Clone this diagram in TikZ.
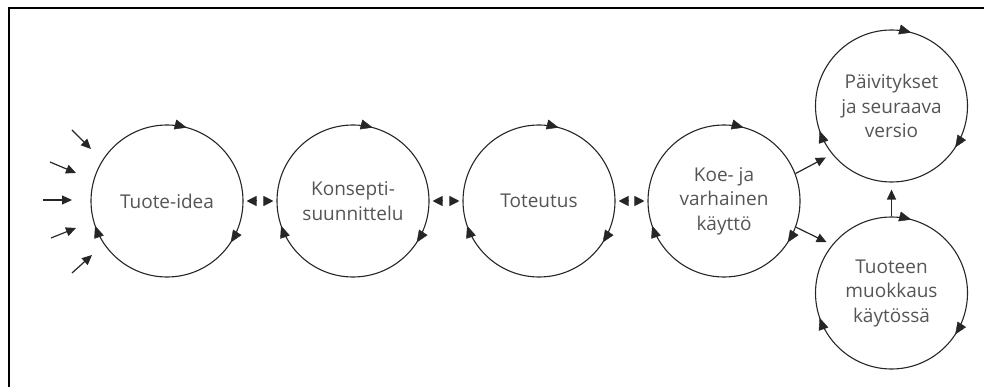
\documentclass[tikz,border=0pt]{standalone}
\usepackage{fontspec}
\setmainfont{Open Sans}
\usetikzlibrary{arrows.meta,decorations.markings,calc}

\definecolor{ink}{HTML}{262626}
\definecolor{txt}{HTML}{555555}

\begin{document}
\begin{tikzpicture}[x=1pt,y=1pt,
  stage/.style={circle, draw=ink, line width=1.1pt, minimum size=152pt,
    inner sep=0pt, align=center, text=txt,
    font=\fontsize{19}{24.5}\selectfont},
  % three clockwise arrowheads placed on a stage circle
  cyc/.style={postaction={decorate}, decoration={markings,
    mark=at position 0.2083 with {\arrowreversed[ink]{Triangle[length=12pt,width=10pt]}},
    mark=at position 0.5528 with {\arrowreversed[ink]{Triangle[length=12pt,width=10pt]}},
    mark=at position 0.9083 with {\arrowreversed[ink]{Triangle[length=12pt,width=10pt]}}}},
  conn/.style={draw=ink, line width=1.2pt, -{Triangle[length=10pt,width=9pt]}},
  half/.style={draw=ink, line width=1pt, -{Triangle[length=10pt,width=10pt]},
    shorten <=4pt, shorten >=3pt},
]
\useasboundingbox (0,0) rectangle (984,-387);

% frame
\draw[line width=2.2pt, line cap=rect] (8.7,-387) -- (8.7,-8.3) -- (984,-8.3);

% stages
\node[stage] (c1) at (167,-201) {Tuote-idea};
\node[stage] (c2) at (353,-201) {Konsepti-\\suunnittelu};
\node[stage] (c3) at (539,-201) {Toteutus};
\node[stage] (c4) at (724,-201) {Koe- ja\\varhainen\\käyttö};
\node[stage] (c5) at (891.5,-106) {Päivitykset\\ja seuraava\\versio};
\node[stage] (c6) at (891.5,-293) {Tuoteen\\muokkaus\\käytössä};

\foreach \c in {c1,c2,c3,c4,c5,c6}
  \path[cyc] (\c.center) circle[radius=76];

% two-way links between neighbouring stages
\coordinate (m12) at ($(c1.east)!0.5!(c2.west)$);
\coordinate (m23) at ($(c2.east)!0.5!(c3.west)$);
\coordinate (m34) at ($(c3.east)!0.5!(c4.west)$);
\draw[half] (m12) -- (c1.east);
\draw[half] (m12) -- (c2.west);
\draw[half] (m23) -- (c2.east);
\draw[half] (m23) -- (c3.west);
\draw[half] (m34) -- (c3.east);
\draw[half] (m34) -- (c4.west);

% incoming ideas
\coordinate (i1s) at (72,-130);  \coordinate (i1e) at (91,-149);
\coordinate (i2s) at (50,-162);  \coordinate (i2e) at (76,-173);
\coordinate (i3s) at (43,-200);  \coordinate (i3e) at (72,-200);
\coordinate (i4s) at (51,-238);  \coordinate (i4e) at (76,-228);
\coordinate (i5s) at (72,-273);  \coordinate (i5e) at (92,-255);
\foreach \k in {1,...,5}
  \draw[conn] (i\k s) -- (i\k e);

% branching after early use
\draw[conn, shorten >=7pt] (c4.21) -- (c5.219);
\draw[conn, shorten >=6pt] (c4.-20) -- (c6.141);
\draw[conn, shorten >=7pt] (c6.north) -- (c5.south);
\end{tikzpicture}
\end{document}
